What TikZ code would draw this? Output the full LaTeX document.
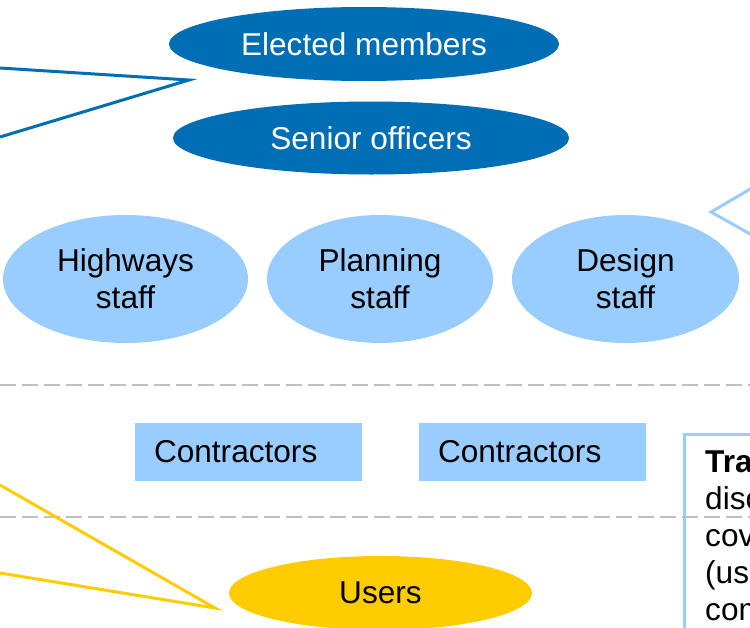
\documentclass[tikz,border=0pt]{standalone}
\usepackage{fontspec}
\setmainfont{Liberation Sans}
\usetikzlibrary{shapes.geometric,positioning}
\definecolor{deepblue}{HTML}{006EB5}
\definecolor{paleblue}{HTML}{99CCFF}
\definecolor{gold}{HTML}{FFCC00}
\definecolor{rulegray}{HTML}{BFBFBF}

\begin{document}
\begin{tikzpicture}[x=1pt, y=-1pt,
  font=\fontsize{31.6}{37}\selectfont, line join=miter,
  lead/.style={ellipse, fill=deepblue, text=white, inner sep=0pt},
  staff/.style={ellipse, fill=paleblue, inner sep=0pt, align=center,
                minimum height=128pt},
  firm/.style={rectangle, fill=paleblue, inner xsep=19pt, inner ysep=0pt,
               text width=189pt, align=left, minimum height=58pt},
  public/.style={ellipse, fill=gold, inner sep=0pt},
  pointer/.style={line width=3pt},
  divider/.style={rulegray, line width=2pt, dash pattern=on 15.5pt off 6.5pt}]
\useasboundingbox (0,0) rectangle (750,627);

% ---------------------------------------------------------------- top tier
\node[lead, minimum width=390pt, minimum height=74pt] (elected) at (364,44) {Elected members};
\node[lead, minimum width=396pt, minimum height=73pt] (senior) at (371,138) {Senior officers};

\coordinate (ptrA) at (0,68);
\coordinate (ptrB) at (0,137);
\coordinate (ptrTip) at (189,80);
\draw[pointer, deepblue] (ptrA) -- (ptrTip) -- (ptrB);

% ---------------------------------------------------------------- staff
\node[staff, minimum width=245pt] (highways) at (125.5,279) {Highways\\staff};
\node[staff, minimum width=226pt] (planning) at (380,279) {Planning\\staff};
\node[staff, minimum width=227pt] (design) at (625.5,279) {Design\\staff};

\coordinate (noteTip) at (711,212);
\coordinate (noteA) at (752,188);
\coordinate (noteB) at (752,235);
\draw[pointer, paleblue] (noteA) -- (noteTip) -- (noteB);

\coordinate (sepL1) at (0,385);
\coordinate (sepR1) at (750,385);
\draw[divider] (sepL1) -- (sepR1);

% ---------------------------------------------------------------- contractors
\node[firm] (firmA) at (248.5,452) {Contractors};
\node[firm] (firmB) at (532.5,452) {Contractors};

\node[draw=paleblue, line width=3pt, minimum width=200pt, minimum height=260pt,
      anchor=north west] (note) at (683,433) {};
\node[anchor=north west, align=left, inner sep=0pt] (noteText) at (705,451)
  {\textbf{Tra}\\disc\\cov\\(us\\com};

\coordinate (sepL2) at (0,517);
\coordinate (sepR2) at (750,517);
\draw[divider] (sepL2) -- (sepR2);

% ---------------------------------------------------------------- users
\node[public, minimum width=303pt, minimum height=74pt] (users) at (380.5,593) {Users};

\coordinate (usrA) at (0,485);
\coordinate (usrB) at (0,573);
\coordinate (usrTip) at (215,608);
\draw[pointer, gold] (usrA) -- (usrTip) -- (usrB);

\end{tikzpicture}
\end{document}
